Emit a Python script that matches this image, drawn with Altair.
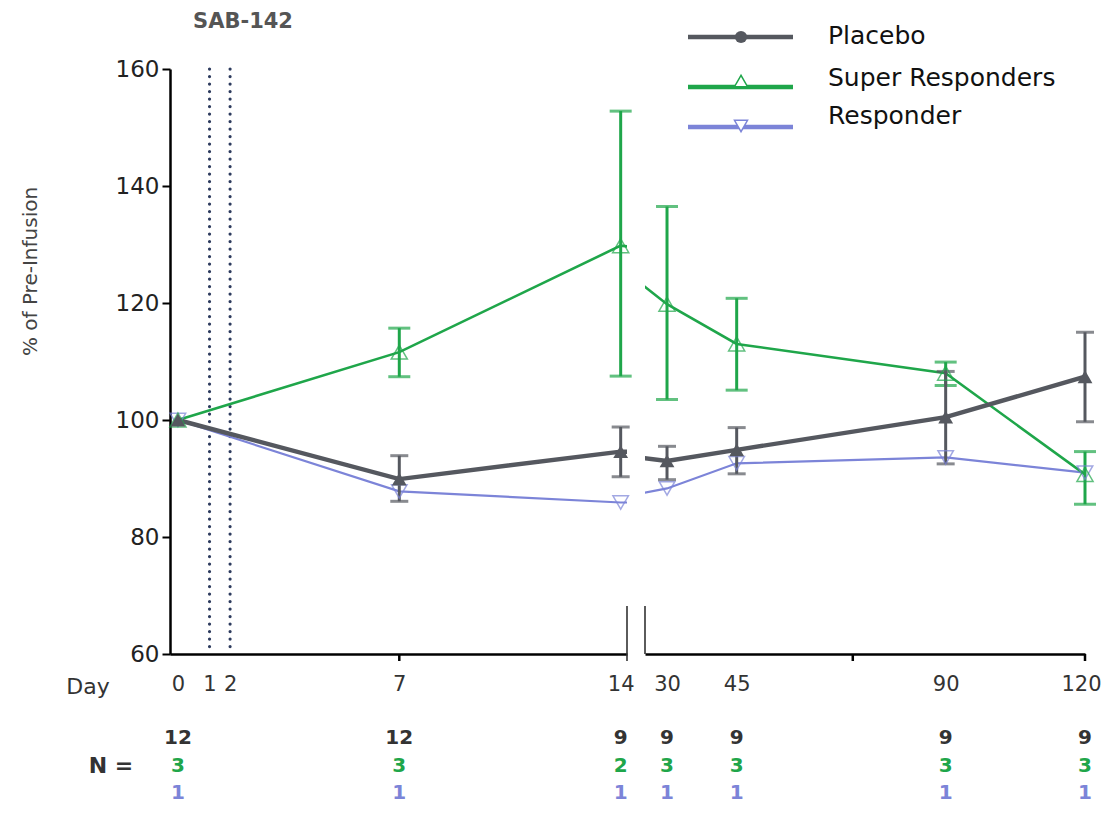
import altair as alt
import pandas as pd

# ---------------- data ----------------
groups = ["Placebo", "Super Responders", "Responder"]
colors = ["#55585f", "#1fa64a", "#7c84d8"]

days = [0, 7, 14, 30, 45, 90, 120]
placebo_mean = [100, 89.9, 94.6, 93.0, 94.9, 100.5, 107.4]
placebo_lo = [None, 86.1, 90.3, 89.8, 90.8, 92.5, 99.7]
placebo_hi = [None, 93.9, 98.8, 95.5, 98.7, 108.3, 115.0]
super_mean = [100, 111.6, 129.8, 119.8, 113.0, 108.0, 90.7]
super_lo = [None, 107.4, 107.5, 103.5, 105.1, 105.9, 85.6]
super_hi = [None, 115.7, 152.8, 136.5, 120.8, 109.9, 94.6]
resp_mean = [100, 87.8, 85.9, 88.3, 92.6, 93.6, 91.0]

n_days = [0, 7, 14, 30, 45, 90, 120]
n_placebo = [12, 12, 9, 9, 9, 9, 9]
n_super = [3, 3, 2, 3, 3, 3, 3]
n_resp = [1, 1, 1, 1, 1, 1, 1]

dose_days = [1, 1.65]          # SAB-142 infusion days (drawn as dotted lines)
left_label_days = [0, 1, 1.65, 7, 14]
right_label_days = [30, 45, 90, 120]
left_tick_days = [7]
right_tick_days = [70]
y_ticks = [60, 80, 100, 120, 140, 160]

rows = []
for g, m, lo, hi in [("Placebo", placebo_mean, placebo_lo, placebo_hi),
                     ("Super Responders", super_mean, super_lo, super_hi),
                     ("Responder", resp_mean, [None] * 7, [None] * 7)]:
    for d, mv, l, h in zip(days, m, lo, hi):
        rows.append({"group": g, "day": d, "mean": mv, "lo": l, "hi": h})
df = pd.DataFrame(rows)

ndf = pd.DataFrame({"day": n_days, "np": n_placebo, "ns": n_super, "nr": n_resp})
one = pd.DataFrame({"k": [0]})

FONT = "DejaVu Sans"
H = 585
Y_SCALE = alt.Scale(domain=[60, 160], nice=False, zero=False)


def label_chart(text):
    return alt.Chart(pd.DataFrame({"label": [text]}))


def panel(domain, width, label_days, tick_days, left):
    xs = alt.Scale(domain=domain, nice=False, zero=False)
    X = alt.X("day:Q", scale=xs, axis=alt.Axis(
        values=label_days, tickSize=0, domainColor="black", domainWidth=2.5,
        labelFontSize=21, labelPadding=19, labelColor="#333", labelFont=FONT,
        labelExpr="format(round(datum.value), 'd')",
        labelFlush=(False if left else 1), labelFlushOffset=(0 if left else 16),
        labelOverlap=False, title=None, grid=False))
    if left:
        yaxis = alt.Axis(values=y_ticks, tickSize=8, tickWidth=2, tickColor="black",
                         domainColor="black", domainWidth=2.5, labelFontSize=23,
                         labelColor="#222", labelPadding=3, labelFont=FONT, grid=False,
                         title="% of Pre-Infusion", titleFontSize=20,
                         titleFontWeight="normal", titleColor="#444", titleFont=FONT,
                         titleX=-140, titleY=202, titleAngle=270, titleBaseline="middle",
                         titleAlign="center")
    else:
        yaxis = None
    Y = alt.Y("mean:Q", scale=Y_SCALE, axis=yaxis)

    base = alt.Chart(df)
    layers = []

    if left:
        dose = alt.Chart(pd.DataFrame({"day": dose_days})).mark_rule(
            color="#2d3b5e", strokeWidth=3.2, strokeDash=[0.1, 7.4], strokeCap="round"
        ).encode(x=X, y=alt.value(0), y2=alt.value(H))
        layers.append(dose)

    widths = {"Responder": 2.2, "Super Responders": 2.6, "Placebo": 4.4}
    for g in ["Responder", "Super Responders", "Placebo"]:
        c = colors[groups.index(g)]
        layers.append(base.transform_filter(alt.datum.group == g).mark_line(
            color=c, strokeWidth=widths[g], clip=True).encode(x=X, y=Y))

    if left:
        keep = alt.datum.day <= domain[1]
    else:
        keep = alt.datum.day >= domain[0]

    for g, cw in [("Super Responders", 22), ("Placebo", 18)]:
        c = colors[groups.index(g)]
        eb = base.transform_filter(alt.datum.group == g).transform_filter(
            "isValid(datum.lo)").transform_filter(keep)
        layers.append(eb.mark_rule(color=c, strokeWidth=3).encode(
            x=X, y=alt.Y("lo:Q", scale=Y_SCALE, axis=yaxis), y2="hi:Q"))
        layers.append(eb.mark_tick(color=c, orient="horizontal", size=cw, thickness=3).encode(
            x=X, y=alt.Y("lo:Q", scale=Y_SCALE, axis=yaxis)))
        layers.append(eb.mark_tick(color=c, orient="horizontal", size=cw, thickness=3).encode(
            x=X, y=alt.Y("hi:Q", scale=Y_SCALE, axis=yaxis)))

    pts = base.transform_filter(keep)
    layers.append(pts.transform_filter(alt.datum.group == "Responder").mark_point(
        shape="triangle-down", filled=False, size=240, strokeWidth=1.5,
        color=colors[2]).encode(x=X, y=Y))
    layers.append(pts.transform_filter(alt.datum.group == "Super Responders").mark_point(
        shape="triangle-up", filled=False, size=260, strokeWidth=1.5,
        color=colors[1]).encode(x=X, y=Y))
    layers.append(pts.transform_filter(alt.datum.group == "Placebo").mark_point(
        shape="triangle-up", filled=True, size=220, opacity=1,
        color=colors[0]).encode(x=X, y=Y))

    # axis ticks
    layers.append(alt.Chart(pd.DataFrame({"day": tick_days})).mark_rule(
        color="black", strokeWidth=2.5).encode(x=X, y=alt.value(H), y2=alt.value(H + 7)))

    # break marks
    if left:
        layers.append(alt.Chart(one).mark_rule(color="#333", strokeWidth=1.6).encode(
            x=alt.value(width), y=alt.value(H - 48), y2=alt.value(H + 7)))
    else:
        layers.append(alt.Chart(one).mark_rule(color="#333", strokeWidth=1.6).encode(
            x=alt.value(0), y=alt.value(H - 48), y2=alt.value(H)))
        layers.append(alt.Chart(one).mark_rule(color="black", strokeWidth=2.5).encode(
            x=alt.value(width), y=alt.value(H), y2=alt.value(H + 7)))

    # N counts
    nsub = alt.Chart(ndf).transform_filter(keep)
    for field, c, dy in [("np", "#333", 84), ("ns", colors[1], 112), ("nr", colors[2], 139)]:
        layers.append(nsub.mark_text(font=FONT, fontSize=20, fontWeight="bold", color=c,
                                     baseline="middle").encode(
            x=X, y=alt.value(H + dy), text=alt.Text(f"{field}:Q")))

    if left:
        layers.append(label_chart("Day").mark_text(font=FONT, fontSize=22, color="#333",
                                                   baseline="middle").encode(
            x=alt.value(-82), y=alt.value(H + 33), text="label:N"))
        layers.append(label_chart("N =").mark_text(font=FONT, fontSize=22, color="#333",
                                                   fontWeight="bold", baseline="middle").encode(
            x=alt.value(-59), y=alt.value(H + 112), text="label:N"))
        layers.append(label_chart("SAB-142").mark_text(font=FONT, fontSize=21,
                                                       fontWeight="bold", color="#555",
                                                       baseline="middle").encode(
            x=alt.value(73), y=alt.value(-47), text="label:N"))
    else:
        # legend
        leg = [("Placebo", -32, -33, "circle", True, 150, -32),
               ("Super Responders", 18, 9, "triangle-up", False, 170, 12),
               ("Responder", 58, 47, "triangle-down", False, 170, 57)]
        for name, ly, ty, shp, fill, sz, my in leg:
            c = colors[groups.index(name)]
            layers.append(alt.Chart(one).mark_rule(color=c, strokeWidth=4.5).encode(
                x=alt.value(43), x2=alt.value(148), y=alt.value(ly)))
            layers.append(alt.Chart(one).mark_point(shape=shp, filled=fill, size=sz,
                                                    strokeWidth=1.5, color=c, opacity=1,
                                                    fill=c if fill else "white").encode(
                x=alt.value(96), y=alt.value(my)))
            layers.append(label_chart(name).mark_text(font=FONT, fontSize=25,
                                                      color="#111", align="left",
                                                      baseline="middle").encode(
                x=alt.value(183), y=alt.value(ty), text="label:N"))

    return alt.layer(*layers).properties(width=width, height=H)


left = panel([-0.25, 14.2], 457, left_label_days, left_tick_days, True)
right = panel([25.26, 120], 440, right_label_days, right_tick_days, False)

chart = alt.hconcat(left, right, spacing=18, bounds="flush").properties(
    padding={"left": 12, "top": 3, "right": 0, "bottom": 0}
).configure(font=FONT).configure_view(stroke=None)

chart.save("out.html", embed_options={"renderer": "svg", "actions": False})
